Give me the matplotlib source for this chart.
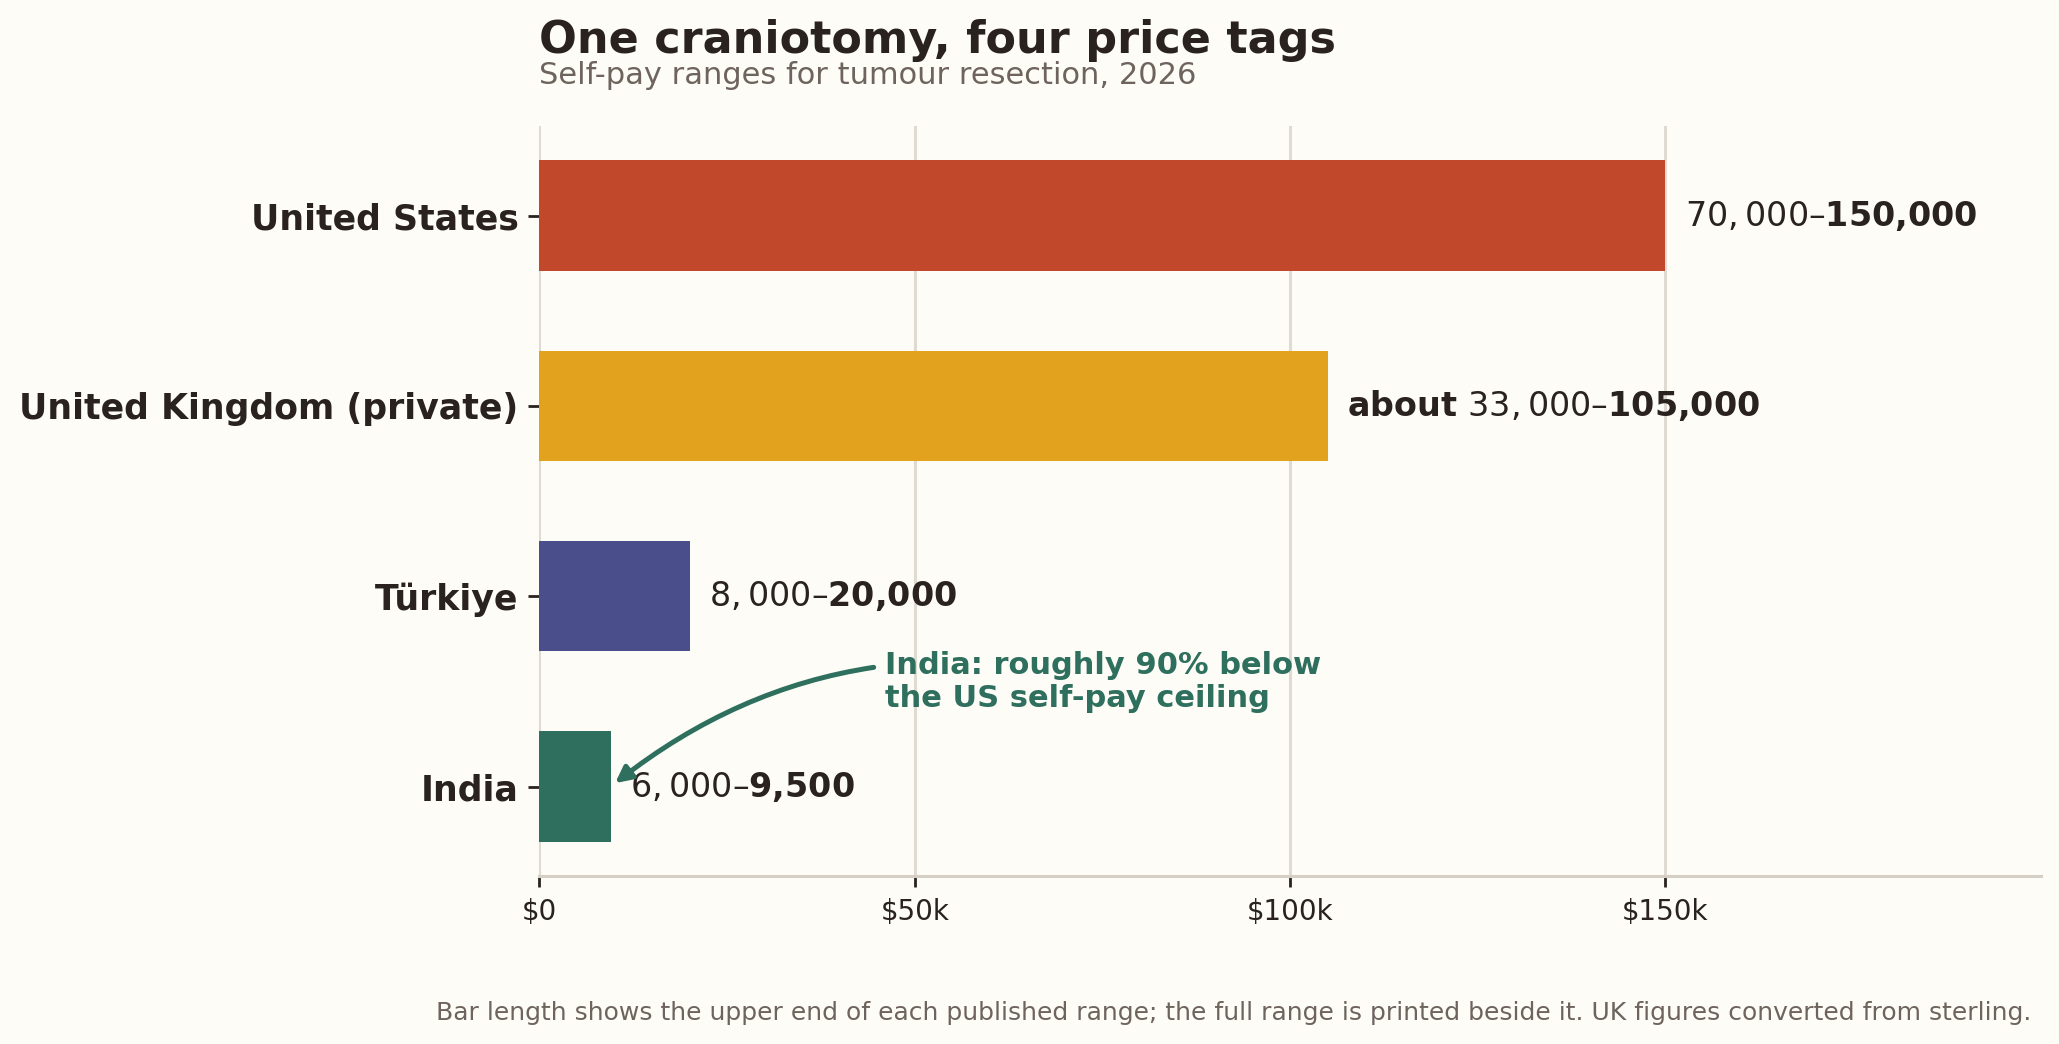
import matplotlib
matplotlib.use("Agg")
import matplotlib.pyplot as plt
from matplotlib.ticker import FixedLocator

# ---- data ----
countries = ["United States", "United Kingdom (private)", "Türkiye", "India"]
low_usd = [70000, 33000, 8000, 6000]
high_usd = [150000, 105000, 20000, 9500]
prefixes = ["", "about ", "", ""]
bar_colors = ["#c2482b", "#e2a21e", "#4a4e8a", "#2e6f5d"]
x_ticks = [0, 50000, 100000, 150000]
x_tick_labels = ["$0", "$50k", "$100k", "$150k"]

title = "One craniotomy, four price tags"
subtitle = "Self-pay ranges for tumour resection, 2026"
footer = ("Bar length shows the upper end of each published range; the full range is "
          "printed beside it. UK figures converted from sterling.")
note = "India: roughly 90% below\nthe US self-pay ceiling"

BG = "#fdfcf7"
INK = "#2a221f"
GREY = "#6e645d"
GRID = "#e0dbd2"
GREEN = "#2e6f5d"

fig = plt.figure(figsize=(2059 / 200, 1044 / 200), dpi=200, facecolor=BG)
ax = fig.add_axes([0.262, 0.161, 0.9911 - 0.262, 0.879 - 0.161])
ax.set_facecolor(BG)

ypos = list(range(len(countries)))
ax.barh(ypos, high_usd, height=0.58, color=bar_colors, zorder=3)
ax.set_yticks(ypos)
ax.set_yticklabels(countries, fontsize=12.5, fontweight="bold", color=INK)
ax.invert_yaxis()
ax.set_xlim(0, 200000)

ax.xaxis.set_major_locator(FixedLocator(x_ticks))
ax.set_xticklabels(x_tick_labels, fontsize=10, color=INK)
ax.tick_params(axis="x", length=4, width=1, color=INK, pad=4)
ax.tick_params(axis="y", length=4, width=1, color=INK, pad=3.5)

ax.grid(axis="x", color=GRID, linewidth=1.1, zorder=0)
ax.set_axisbelow(True)
for s in ["top", "right", "left"]:
    ax.spines[s].set_visible(False)
ax.spines["bottom"].set_color("#d6cfc5")
ax.spines["bottom"].set_linewidth(1.1)

for y, lo, hi, pre in zip(ypos, low_usd, high_usd, prefixes):
    label = f"{pre}${lo:,}–${hi:,}"
    ax.annotate(label, xy=(hi, y), xytext=(7, 0), textcoords="offset points",
                ha="left", va="center", fontsize=12, fontweight="bold", color=INK)

ax.annotate(note, xy=(high_usd[3], 3), xytext=(46000, 2.45),
            ha="left", va="center", fontsize=11, fontweight="bold", color=GREEN,
            arrowprops=dict(arrowstyle="-|>", color=GREEN, lw=1.8,
                            mutation_scale=12,
                            connectionstyle="arc3,rad=0.25"))

fig.text(0.262, 0.9497, title, fontsize=16, fontweight="bold", color=INK,
         ha="left", va="baseline")
fig.text(0.262, 0.9195, subtitle, fontsize=11, color=GREY, ha="left", va="baseline")
fig.text(0.9866, 0.023, footer, fontsize=9, color=GREY, ha="right", va="baseline")

fig.savefig("out.png", dpi=200, facecolor=BG)
